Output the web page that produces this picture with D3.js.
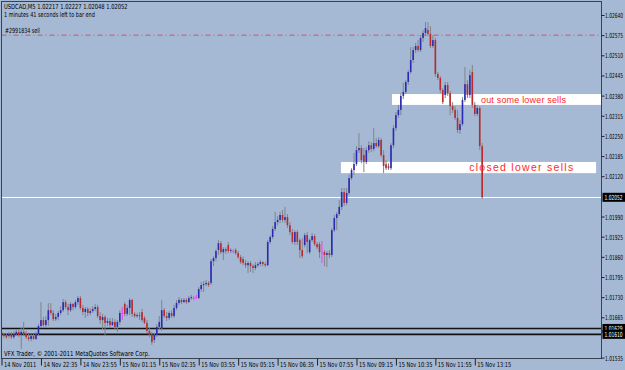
<!DOCTYPE html>
<html><head><meta charset="utf-8">
<script src="https://cdn.jsdelivr.net/npm/d3@7"></script>
<style>html,body{margin:0;padding:0;background:#a5b9d4;} svg{display:block}</style>
</head><body><svg id="c" width="625" height="370"></svg>
<script>
// ---------- DATA ----------
const headerLine1 = "USDCAD,M5  1.02217 1.02227 1.02048 1.02052";
const headerLine2 = "1 minutes 41 seconds left to bar end";
const footerText = "VFX Trader, \u00A9 2001-2011 MetaQuotes Software Corp.";

const open = [
1.01618,1.01608,1.01608,1.01605,1.01611,1.01601,1.01611,1.01618,1.01608,1.01618,
1.01611,1.01601,1.01595,1.01605,1.01595,1.01611,1.01637,1.01656,1.01640,1.01656,
1.01688,1.01679,1.01659,1.01666,1.01679,1.01688,1.01714,1.01698,1.01688,1.01708,
1.01698,1.01714,1.01727,1.01695,1.01682,1.01692,1.01679,1.01685,1.01692,1.01698,
1.01669,1.01656,1.01666,1.01647,1.01653,1.01640,1.01650,1.01634,1.01650,1.01679,
1.01708,1.01676,1.01695,1.01721,1.01676,1.01669,1.01672,1.01682,1.01663,1.01647,
1.01621,1.01608,1.01592,1.01608,1.01634,1.01630,1.01688,1.01669,1.01663,1.01679,
1.01669,1.01695,1.01711,1.01721,1.01714,1.01721,1.01714,1.01727,1.01727,1.01730,
1.01727,1.01756,1.01769,1.01772,1.01776,1.01776,1.01846,1.01856,1.01882,1.01904,
1.01875,1.01885,1.01898,1.01879,1.01879,1.01882,1.01872,1.01859,1.01853,1.01840,
1.01833,1.01840,1.01830,1.01824,1.01833,1.01837,1.01843,1.01837,1.01833,1.01908,
1.01924,1.01950,1.01972,1.01979,1.01995,1.01979,1.01988,1.01962,1.01940,1.01908,
1.01940,1.01914,1.01882,1.01898,1.01930,1.01875,1.01914,1.01927,1.01901,1.01901,
1.01875,1.01875,1.01866,1.01872,1.01866,1.01946,1.01985,1.01998,1.02021,1.02069,
1.02034,1.02066,1.02114,1.02140,1.02159,1.02204,1.02211,1.02188,1.02166,1.02204,
1.02220,1.02208,1.02227,1.02217,1.02237,1.02188,1.02159,1.02153,1.02146,1.02220,
1.02275,1.02317,1.02334,1.02379,1.02392,1.02424,1.02456,1.02495,1.02527,1.02540,
1.02527,1.02566,1.02582,1.02592,1.02579,1.02540,1.02559,1.02450,1.02437,1.02398,
1.02382,1.02414,1.02388,1.02346,1.02334,1.02308,1.02269,1.02288,1.02366,1.02417,
1.02382,1.02456,1.02350,1.02321,1.02340,1.02217];

const high = [
1.01624,1.01614,1.01614,1.01618,1.01618,1.01621,1.01627,1.01624,1.01630,1.01650,
1.01621,1.01611,1.01611,1.01611,1.01618,1.01643,1.01714,1.01666,1.01669,1.01711,
1.01711,1.01688,1.01676,1.01685,1.01701,1.01724,1.01721,1.01708,1.01714,1.01711,
1.01721,1.01734,1.01734,1.01705,1.01698,1.01698,1.01695,1.01701,1.01708,1.01705,
1.01682,1.01676,1.01672,1.01663,1.01663,1.01663,1.01659,1.01656,1.01688,1.01698,
1.01714,1.01705,1.01727,1.01724,1.01682,1.01679,1.01682,1.01692,1.01669,1.01656,
1.01630,1.01618,1.01614,1.01643,1.01669,1.01721,1.01695,1.01682,1.01685,1.01688,
1.01705,1.01721,1.01730,1.01727,1.01727,1.01727,1.01734,1.01737,1.01734,1.01737,
1.01763,1.01779,1.01782,1.01785,1.01782,1.01853,1.01862,1.01885,1.01914,1.01911,
1.01891,1.01891,1.01908,1.01888,1.01885,1.01888,1.01879,1.01866,1.01862,1.01850,
1.01846,1.01846,1.01837,1.01843,1.01843,1.01850,1.01846,1.01843,1.01914,1.01930,
1.01959,1.02005,1.01992,1.02005,1.02011,1.02021,1.01998,1.01972,1.01950,1.01946,
1.01946,1.01920,1.01920,1.01937,1.01940,1.01920,1.01937,1.01933,1.01908,1.01908,
1.01911,1.01882,1.01879,1.01882,1.01953,1.01995,1.02005,1.02043,1.02082,1.02082,
1.02082,1.02124,1.02146,1.02195,1.02217,1.02259,1.02220,1.02211,1.02214,1.02233,
1.02230,1.02275,1.02243,1.02246,1.02243,1.02204,1.02172,1.02162,1.02227,1.02285,
1.02327,1.02350,1.02388,1.02421,1.02430,1.02463,1.02537,1.02537,1.02550,1.02559,
1.02575,1.02592,1.02617,1.02617,1.02604,1.02575,1.02566,1.02456,1.02443,1.02404,
1.02424,1.02424,1.02395,1.02359,1.02346,1.02334,1.02301,1.02375,1.02472,1.02430,
1.02463,1.02479,1.02359,1.02350,1.02346,1.02227];

const low = [
1.01601,1.01598,1.01595,1.01598,1.01595,1.01595,1.01605,1.01601,1.01563,1.01605,
1.01595,1.01588,1.01588,1.01592,1.01592,1.01605,1.01630,1.01634,1.01634,1.01637,
1.01672,1.01653,1.01653,1.01656,1.01672,1.01682,1.01692,1.01672,1.01682,1.01688,
1.01692,1.01705,1.01688,1.01672,1.01663,1.01669,1.01672,1.01679,1.01685,1.01663,
1.01643,1.01624,1.01608,1.01637,1.01630,1.01637,1.01624,1.01618,1.01640,1.01656,
1.01669,1.01669,1.01672,1.01666,1.01663,1.01663,1.01656,1.01650,1.01643,1.01614,
1.01601,1.01576,1.01582,1.01601,1.01627,1.01621,1.01663,1.01653,1.01656,1.01663,
1.01663,1.01688,1.01705,1.01708,1.01711,1.01708,1.01711,1.01721,1.01721,1.01724,
1.01724,1.01747,1.01747,1.01766,1.01763,1.01769,1.01830,1.01846,1.01866,1.01869,
1.01850,1.01869,1.01872,1.01872,1.01872,1.01866,1.01853,1.01837,1.01833,1.01824,
1.01808,1.01811,1.01808,1.01817,1.01827,1.01830,1.01830,1.01827,1.01830,1.01901,
1.01917,1.01943,1.01962,1.01969,1.01972,1.01969,1.01953,1.01930,1.01901,1.01898,
1.01898,1.01856,1.01856,1.01891,1.01872,1.01869,1.01908,1.01895,1.01885,1.01856,
1.01840,1.01830,1.01827,1.01856,1.01859,1.01940,1.01946,1.01992,1.02011,1.02024,
1.02027,1.02059,1.02108,1.02124,1.02153,1.02195,1.02162,1.02133,1.02159,1.02195,
1.02198,1.02201,1.02211,1.02211,1.02182,1.02130,1.02140,1.02140,1.02140,1.02211,
1.02266,1.02308,1.02317,1.02369,1.02385,1.02414,1.02450,1.02485,1.02517,1.02521,
1.02521,1.02553,1.02572,1.02572,1.02533,1.02533,1.02440,1.02430,1.02388,1.02353,
1.02372,1.02379,1.02317,1.02324,1.02301,1.02259,1.02256,1.02282,1.02359,1.02372,
1.02372,1.02340,1.02314,1.02314,1.02204,1.02048];

const close = [
1.01608,1.01605,1.01601,1.01611,1.01601,1.01611,1.01618,1.01608,1.01618,1.01611,
1.01601,1.01595,1.01605,1.01595,1.01611,1.01637,1.01656,1.01640,1.01656,1.01688,
1.01679,1.01659,1.01666,1.01679,1.01688,1.01714,1.01698,1.01688,1.01708,1.01698,
1.01714,1.01727,1.01695,1.01682,1.01692,1.01679,1.01685,1.01692,1.01698,1.01669,
1.01656,1.01666,1.01647,1.01653,1.01640,1.01650,1.01634,1.01650,1.01679,1.01679,
1.01676,1.01695,1.01721,1.01676,1.01669,1.01672,1.01669,1.01656,1.01647,1.01621,
1.01608,1.01585,1.01608,1.01634,1.01650,1.01688,1.01669,1.01663,1.01679,1.01669,
1.01695,1.01711,1.01721,1.01714,1.01721,1.01714,1.01727,1.01730,1.01727,1.01730,
1.01756,1.01769,1.01772,1.01776,1.01769,1.01846,1.01856,1.01879,1.01904,1.01875,
1.01885,1.01879,1.01879,1.01882,1.01879,1.01872,1.01859,1.01843,1.01840,1.01833,
1.01840,1.01830,1.01824,1.01833,1.01837,1.01843,1.01837,1.01833,1.01908,1.01924,
1.01950,1.01972,1.01979,1.01995,1.01979,1.01988,1.01962,1.01940,1.01908,1.01940,
1.01908,1.01882,1.01862,1.01930,1.01908,1.01914,1.01927,1.01901,1.01891,1.01875,
1.01875,1.01866,1.01872,1.01866,1.01946,1.01985,1.01998,1.02021,1.02069,1.02034,
1.02066,1.02114,1.02140,1.02159,1.02204,1.02211,1.02172,1.02166,1.02204,1.02220,
1.02208,1.02227,1.02217,1.02237,1.02188,1.02153,1.02146,1.02146,1.02220,1.02275,
1.02317,1.02334,1.02379,1.02392,1.02424,1.02456,1.02495,1.02527,1.02540,1.02527,
1.02566,1.02582,1.02598,1.02579,1.02540,1.02559,1.02450,1.02437,1.02398,1.02359,
1.02414,1.02388,1.02346,1.02334,1.02308,1.02269,1.02288,1.02366,1.02417,1.02382,
1.02446,1.02350,1.02321,1.02340,1.02217,1.02052];

const priceTicks = [1.02640,1.02575,1.02510,1.02445,1.02380,1.02315,1.02250,1.02185,1.02120,
  1.01990,1.01925,1.01860,1.01795,1.01730,1.01665,1.01535];
const timeTickIdx = [0,16,32,48,64,80,96,112,128,144,160,176,192];
const timeLabels = ["14 Nov 2011","14 Nov 22:35","14 Nov 23:55","15 Nov 01:15","15 Nov 02:35",
  "15 Nov 03:55","15 Nov 05:15","15 Nov 06:35","15 Nov 07:55","15 Nov 09:15","15 Nov 10:35",
  "15 Nov 11:55","15 Nov 13:15"];

const bidPrice = 1.02052;
const blackLevels = [1.01629, 1.01610];
const sellPrice = 1.02575;
const sellLabel = "#2991834 sell";

const boxTexts = ["out some lower sells", "closed lower sells"];
const boxTop = [1.02385, 1.02166];
const boxBottom = [1.02350, 1.02130];
const boxStartIdx = [158.4, 137.7];
const boxEndIdx = [244, 241.2];
const boxTextIdx = [194.5, 189.7];

// ---------- DRAW ----------
const FONT = "'DejaVu Sans', Verdana, sans-serif";
const BG = "#a5b9d4";
const svg = d3.select("#c");
svg.append("rect").attr("width",625).attr("height",370).attr("fill",BG);

const x = d3.scaleLinear().domain([0,195]).range([1.5,482.2]);
const y = d3.scaleLinear().domain([1.01535,1.02640]).range([357.6,15]);

svg.append("defs").append("clipPath").attr("id","plot")
  .append("rect").attr("x",2).attr("y",2).attr("width",599.5).attr("height",356);
const plot = svg.append("g").attr("clip-path","url(#plot)");

function squeeze(node, tx, ty, w){
  const nat = node.getComputedTextLength();
  d3.select(node).attr("x",0).attr("y",0)
    .attr("transform",`translate(${tx},${ty}) scale(${w/nat},1)`);
}

// white annotation boxes
boxTexts.forEach((t,k)=>{
  plot.append("rect")
    .attr("x",x(boxStartIdx[k])).attr("y",y(boxTop[k]))
    .attr("width",x(boxEndIdx[k])-x(boxStartIdx[k]))
    .attr("height",y(boxBottom[k])-y(boxTop[k]))
    .attr("fill","#ffffff");
});

// horizontal levels
plot.append("line").attr("x1",1.5).attr("x2",601.5)
  .attr("y1",y(sellPrice)).attr("y2",y(sellPrice))
  .attr("stroke","#d5505f").attr("stroke-width",1).attr("stroke-dasharray","5,3,1,3");
plot.append("line").attr("x1",1.5).attr("x2",601.5)
  .attr("y1",Math.round(y(bidPrice))+0.5).attr("y2",Math.round(y(bidPrice))+0.5)
  .attr("stroke","#ffffff").attr("stroke-width",1);
blackLevels.forEach(p=>{
  plot.append("line").attr("x1",1.5).attr("x2",601.5)
    .attr("y1",y(p)).attr("y2",y(p))
    .attr("stroke","#111111").attr("stroke-width",1.6);
});

// candles
const idx = d3.range(close.length);
const cg = plot.append("g");
idx.forEach(i=>{
  const xi = x(i);
  const doji = open[i] === close[i];
  const bull = close[i] > open[i];
  cg.append("line").attr("x1",xi).attr("x2",xi)
    .attr("y1",y(high[i])).attr("y2",y(low[i]))
    .attr("stroke", doji ? "#f040f0" : "#80848c").attr("stroke-width",1);
  const yt = y(Math.max(open[i],close[i])), yb = y(Math.min(open[i],close[i]));
  cg.append("rect").attr("x",xi-0.8).attr("width",1.6)
    .attr("y",yt).attr("height",Math.max(1,yb-yt))
    .attr("fill", doji ? "#f040f0" : (bull ? "#2a2ab4" : "#b82a2c"));
});

// box texts (on top)
const boxFont = [9, 10.5];
const boxW = [85, 104];
boxTexts.forEach((t,k)=>{
  const cy = (y(boxTop[k])+y(boxBottom[k]))/2;
  plot.append("text").attr("x",x(boxTextIdx[k])).attr("y",cy+3.4)
    .attr("font-family","'Liberation Sans', Arial, sans-serif").attr("font-size",boxFont[k])
    .attr("fill","#ff2a2a").text(t)
    .attr("textLength", boxW[k]).attr("lengthAdjust","spacing");
});

// frame
svg.append("rect").attr("x",1.5).attr("y",1.5).attr("width",600).attr("height",357)
  .attr("fill","none").attr("stroke","#3a4250").attr("stroke-width",1);

// right price axis
const gy = svg.append("g").attr("transform","translate(601.5,0)")
  .call(d3.axisRight(y).tickValues(priceTicks).tickSize(3).tickPadding(1).tickFormat(d3.format(".5f")));
gy.select(".domain").remove();
gy.attr("font-size",7).attr("font-family",FONT);
gy.selectAll(".tick line").attr("stroke","#222");
gy.selectAll(".tick text").attr("fill","#000").attr("dy",null)
  .each(function(){ squeeze(this, 3.5, 2.5, 18); });

// price marker labels (black boxes)
function marker(p){
  const yy = y(p);
  svg.append("rect").attr("x",602.5).attr("y",yy-4.5).attr("width",23).attr("height",9).attr("fill","#000");
  const t = svg.append("text").attr("font-family",FONT).attr("font-size",7)
    .attr("fill","#fff").text(d3.format(".5f")(p));
  squeeze(t.node(), 604.5, yy+2.6, 18);
}
blackLevels.forEach(marker);
marker(bidPrice);

// bottom time axis
const gx = svg.append("g").attr("transform","translate(0,358.5)")
  .call(d3.axisBottom(x).tickValues(timeTickIdx).tickSize(7).tickFormat((d,i)=>timeLabels[i]));
gx.select(".domain").remove();
gx.attr("font-size",7).attr("font-family",FONT);
gx.selectAll(".tick line").attr("stroke","#222");
const tt = gx.selectAll(".tick text").attr("fill","#000").attr("text-anchor","start").attr("dy",null);
const fac = 34/tt.nodes()[1].getComputedTextLength();
tt.each(function(){ squeeze(this, 2, 8.5, this.getComputedTextLength()*fac); });

// header / footer texts
function label(t,xx,yy,w){
  const n = svg.append("text").attr("font-family",FONT).attr("font-size",7)
    .attr("fill","#000").text(t);
  squeeze(n.node(), xx, yy, w);
}
label(headerLine1,4,8.5,124);
label(headerLine2,4,16.5,91);
label(sellLabel,5,33.3,35);
label(footerText,4,355.5,146);
</script></body></html>
